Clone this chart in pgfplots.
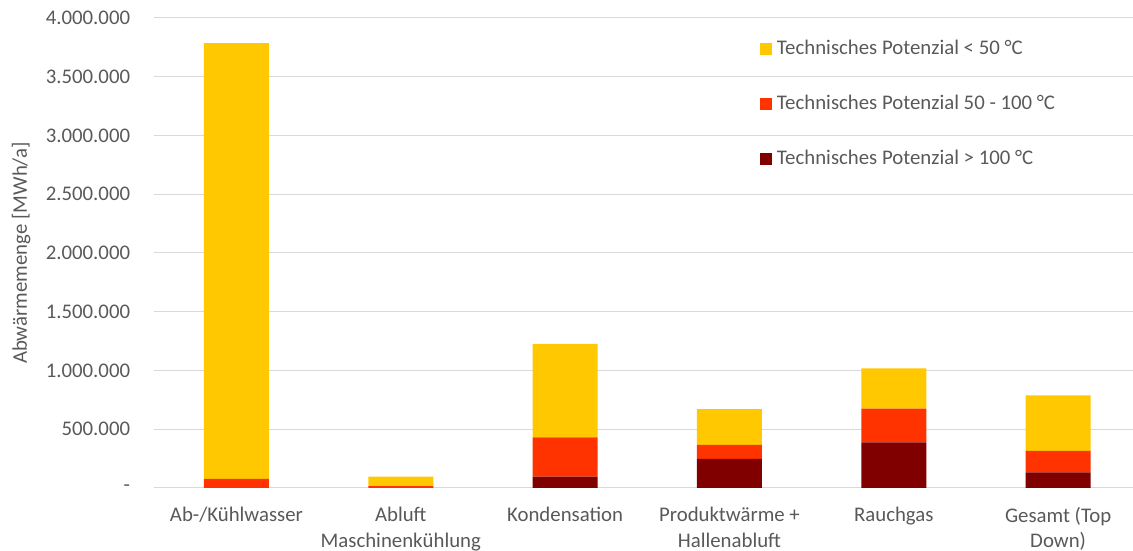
\documentclass[border=0pt]{standalone}
\usepackage{pgfplots}
\pgfplotsset{compat=1.18}
\usepackage{fontspec}
\setmainfont{Carlito}
\definecolor{cY}{HTML}{FFC800}
\definecolor{cR}{HTML}{FF3300}
\definecolor{cD}{HTML}{800000}
\definecolor{txt}{HTML}{595959}
\definecolor{grd}{HTML}{D9D9D9}
\newcommand{\ff}{\fontsize{20.8}{25.5}\selectfont}
\begin{document}
\ff
\begin{tikzpicture}
\begin{axis}[
  at={(154.3pt,63pt)}, anchor=south west,
  scale only axis, width=986pt, height=470pt,
  ybar stacked, bar width=65pt,
  xmin=-0.5, xmax=5.5, ymin=0, ymax=4000000,
  scaled y ticks=false,
  axis line style={draw=none},
  major tick length=0pt,
  ymajorgrids, grid style={grd, line width=1pt},
  xtick={0,1,2,3,4,5},
  xticklabels={Ab-/Kühlwasser,{Abluft\\Maschinenkühlung},Kondensation,{Produktwärme +\\Hallenabluft},Rauchgas,{Gesamt (Top\\Down)}},
  xticklabel style={align=center, anchor=north, inner sep=0pt, yshift=-19pt, text=txt, font=\ff},
  ytick={0,500000,1000000,1500000,2000000,2500000,3000000,3500000,4000000},
  yticklabels={-,500.000,1.000.000,1.500.000,2.000.000,2.500.000,3.000.000,3.500.000,4.000.000},
  yticklabel style={anchor=east, inner sep=0pt, xshift=-24pt, text=txt, font=\ff},
  ylabel={Abwärmemenge [MWh/a]},
  ylabel style={at={(axis description cs:-0.135,0.5)}, anchor=center, text=txt, font=\ff},
  reverse legend,
  legend cell align=left,
  legend style={at={(axis description cs:0.611,0.957)}, anchor=north west, draw=none, fill=none,
    font=\ff, text=txt,
    nodes={inner sep=0pt, text height=14pt, text depth=4pt},
    row sep=37pt, /tikz/every odd column/.append style={column sep=5pt}},
  legend image code/.code={\fill[#1] (0pt,-6pt) rectangle (12pt,6pt);},
]
\addplot[fill=cD, draw=none] coordinates {(0,0) (1,0) (2,96000) (3,247000) (4,389000) (5,134000)};
\addplot[fill=cR, draw=none] coordinates {(0,77000) (1,17000) (2,335000) (3,119000) (4,286000) (5,183000)};
\addplot[fill=cY, draw=none] coordinates {(0,3710000) (1,79000) (2,795000) (3,306000) (4,344000) (5,472000)};
\legend{Technisches Potenzial > 100 °C, Technisches Potenzial 50 - 100 °C, Technisches Potenzial < 50 °C}
\end{axis}
\pgfresetboundingbox
\path[use as bounding box] (0,0) rectangle (1133pt,551pt);
\end{tikzpicture}
\end{document}
